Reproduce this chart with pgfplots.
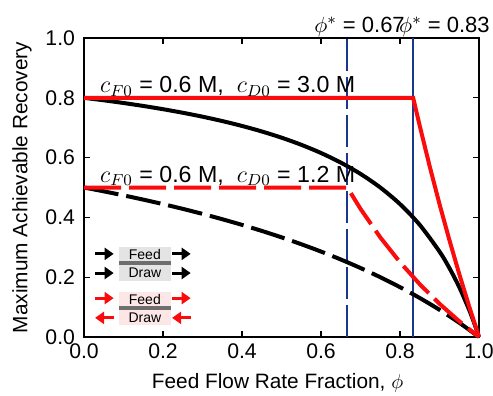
\documentclass[border=0pt]{standalone}
\usepackage{fontspec}
\setmainfont{Liberation Sans}
\usepackage{pgfplots}
\pgfplotsset{compat=1.18}
\usetikzlibrary{arrows.meta}
\definecolor{navy}{RGB}{25,55,140}
\definecolor{myred}{RGB}{250,12,12}
\definecolor{boxgray}{RGB}{228,228,228}
\definecolor{boxpink}{RGB}{253,230,230}
\definecolor{bargray}{RGB}{110,110,110}
\begin{document}
\begin{tikzpicture}[font=\fontsize{10.4}{12.5}\selectfont]
\begin{axis}[
  scale only axis, width=197.5pt, height=149.5pt,
  xmin=0, xmax=1, ymin=0, ymax=1,
  xtick={0,0.2,0.4,0.6,0.8,1.0}, ytick={0,0.2,0.4,0.6,0.8,1.0},
  tick align=inside, major tick length=3pt,
  every tick/.style={black, line width=0.6pt},
  axis line style={line width=0.8pt},
  /pgf/number format/assume math mode=true,
  tick label style={font=\fontsize{10.6}{12.5}\selectfont},
  label style={font=\fontsize{10.4}{12.5}\selectfont},
  xticklabel style={/pgf/number format/fixed,/pgf/number format/fixed zerofill,/pgf/number format/precision=1},
  yticklabel style={/pgf/number format/fixed,/pgf/number format/fixed zerofill,/pgf/number format/precision=1, xshift=-1pt},
  clip=false,
  xlabel={Feed Flow Rate Fraction, $\phi$},
  ylabel={Maximum Achievable Recovery},
  xlabel style={at={(axis description cs:0.49,-0.1706)}, anchor=base},
  ylabel style={at={(axis description cs:-0.157,0.5)}, anchor=center},
]
% vertical guide lines
\addplot[navy, line width=1pt, dash pattern=on 16pt off 3pt] coordinates {(0.6667,0) (0.6667,1)};
\addplot[navy, line width=1pt] coordinates {(0.8333,0) (0.8333,1)};
% co-current, cD0 = 3.0 M
\addplot[black, line width=2pt, smooth] coordinates {
(0,0.8) (0.05,0.79167) (0.1,0.78261) (0.15,0.77273) (0.2,0.76190) (0.25,0.75)
(0.3,0.73684) (0.35,0.72222) (0.4,0.70588) (0.45,0.6875) (0.5,0.66667)
(0.55,0.64286) (0.6,0.61538) (0.65,0.58333) (0.7,0.54545) (0.75,0.5)
(0.8,0.44444) (0.85,0.375) (0.9,0.28571) (0.925,0.23077) (0.95,0.16667)
(0.975,0.09091) (0.99,0.03846) (1,0)};
% co-current, cD0 = 1.2 M
\addplot[black, line width=2pt, smooth, dash pattern=on 17.5pt off 4pt] coordinates {
(0,0.5) (0.05,0.48718) (0.1,0.47368) (0.15,0.45946) (0.2,0.44444) (0.25,0.42857)
(0.3,0.41176) (0.35,0.39394) (0.4,0.375) (0.45,0.35484) (0.5,0.33333)
(0.55,0.31034) (0.6,0.28571) (0.65,0.25926) (0.7,0.23077) (0.75,0.2)
(0.8,0.16667) (0.85,0.13043) (0.9,0.09091) (0.95,0.04762) (1,0)};
% counter-current, cD0 = 3.0 M
\addplot[myred, line width=2pt] coordinates {
(0,0.8) (0.8333,0.8) (0.85,0.70588) (0.875,0.57143) (0.9,0.44444)
(0.925,0.32432) (0.95,0.21053) (0.975,0.10256) (1,0)};
% counter-current, cD0 = 1.2 M
\addplot[myred, line width=2pt, dash pattern=on 18.5pt off 4pt] coordinates {
(0,0.5) (0.6667,0.5) (0.7,0.42857) (0.75,0.33333) (0.8,0.25)
(0.85,0.17647) (0.9,0.11111) (0.95,0.05263) (1,0)};
% labels
\node[anchor=base west, inner sep=0pt, font=\fontsize{11.6}{13}\selectfont] at (axis cs:0.04,0.818) {$c_{F0}$ = 0.6 M,\ \ $c_{D0}$ = 3.0 M};
\node[anchor=base west, inner sep=0pt, font=\fontsize{11.6}{13}\selectfont] at (axis cs:0.04,0.518) {$c_{F0}$ = 0.6 M,\ \ $c_{D0}$ = 1.2 M};
\node[anchor=base west, inner sep=0pt, font=\fontsize{11}{13}\selectfont] at (axis cs:0.582,1.02) {$\phi^{*}$ = 0.67};
\node[anchor=base west, inner sep=0pt, font=\fontsize{11}{13}\selectfont] at (axis cs:0.797,1.02) {$\phi^{*}$ = 0.83};
% schematic: co-current
\fill[boxgray] (axis cs:0.0886,0.187) rectangle (axis cs:0.220,0.301);
\draw[bargray, line width=2pt] (axis cs:0.0886,0.247) -- (axis cs:0.220,0.247);
\node[font=\fontsize{7}{8}\selectfont] at (axis cs:0.154,0.276) {Feed};
\node[font=\fontsize{7}{8}\selectfont] at (axis cs:0.154,0.215) {Draw};
\draw[black, line width=1.5pt, -{Triangle[length=4.5pt,width=6pt]}] (axis cs:0.028,0.278) -- (axis cs:0.075,0.278);
\draw[black, line width=1.5pt, -{Triangle[length=4.5pt,width=6pt]}] (axis cs:0.223,0.278) -- (axis cs:0.270,0.278);
\draw[black, line width=1.5pt, -{Triangle[length=4.5pt,width=6pt]}] (axis cs:0.028,0.214) -- (axis cs:0.075,0.214);
\draw[black, line width=1.5pt, -{Triangle[length=4.5pt,width=6pt]}] (axis cs:0.223,0.214) -- (axis cs:0.270,0.214);
% schematic: counter-current
\fill[boxpink] (axis cs:0.0886,0.040) rectangle (axis cs:0.220,0.150);
\draw[bargray, line width=2pt] (axis cs:0.0886,0.097) -- (axis cs:0.220,0.097);
\node[font=\fontsize{7}{8}\selectfont] at (axis cs:0.154,0.127) {Feed};
\node[font=\fontsize{7}{8}\selectfont] at (axis cs:0.154,0.066) {Draw};
\draw[myred, line width=1.5pt, -{Triangle[length=4.5pt,width=6pt]}] (axis cs:0.028,0.130) -- (axis cs:0.075,0.130);
\draw[myred, line width=1.5pt, -{Triangle[length=4.5pt,width=6pt]}] (axis cs:0.223,0.130) -- (axis cs:0.270,0.130);
\draw[myred, line width=1.5pt, -{Triangle[length=4.5pt,width=6pt]}] (axis cs:0.075,0.064) -- (axis cs:0.028,0.064);
\draw[myred, line width=1.5pt, -{Triangle[length=4.5pt,width=6pt]}] (axis cs:0.270,0.064) -- (axis cs:0.223,0.064);
\coordinate (bbl) at (rel axis cs:-0.2127,-0.194);
\coordinate (btr) at (rel axis cs:1.0354,1.1271);
\end{axis}
\pgfresetboundingbox
\useasboundingbox (bbl) rectangle (btr);
\end{tikzpicture}
\end{document}
